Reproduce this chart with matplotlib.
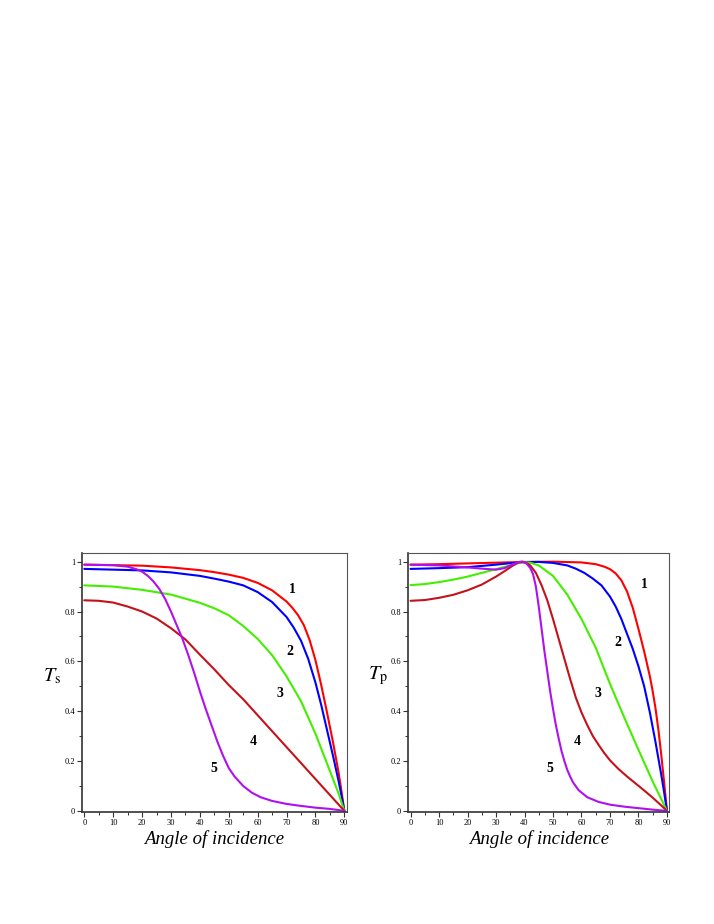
import matplotlib
matplotlib.use("Agg")
import matplotlib.pyplot as plt
from matplotlib.ticker import MultipleLocator, FixedLocator, FixedFormatter

plt.rcParams["font.family"] = ["Liberation Serif", "DejaVu Serif"]
plt.rcParams["mathtext.fontset"] = "stix"

# ---- data ----
# left panel: T_s
ts1_ang = [0, 10, 20, 30, 40, 45, 50, 55, 60, 65, 70, 72, 74, 76, 78, 80, 82, 84, 86, 88, 89, 90]
ts1_val = [0.988, 0.986, 0.984, 0.977, 0.966, 0.958, 0.948, 0.935, 0.915, 0.885, 0.84, 0.815,
           0.785, 0.745, 0.685, 0.605, 0.505, 0.395, 0.28, 0.155, 0.08, 0.0]

ts2_ang = [0, 10, 20, 30, 40, 45, 50, 55, 60, 65, 70, 72.5, 75, 77.5, 80, 82, 84, 86, 88, 89, 90]
ts2_val = [0.971, 0.968, 0.965, 0.957, 0.943, 0.932, 0.92, 0.905, 0.878, 0.838, 0.778, 0.735,
           0.683, 0.61, 0.515, 0.425, 0.325, 0.225, 0.12, 0.062, 0.0]

ts3_ang = [0, 10, 20, 30, 40, 45, 50, 55, 60, 65, 70, 75, 80, 85, 88, 90]
ts3_val = [0.905, 0.90, 0.887, 0.868, 0.835, 0.813, 0.785, 0.742, 0.69, 0.625, 0.54, 0.44,
           0.31, 0.16, 0.07, 0.0]

ts4_ang = [0, 5, 10, 15, 20, 25, 30, 35, 40, 45, 50, 55, 60, 65, 70, 75, 80, 85, 90]
ts4_val = [0.845, 0.843, 0.836, 0.82, 0.80, 0.772, 0.733, 0.688, 0.627, 0.568, 0.505, 0.448,
           0.384, 0.32, 0.256, 0.192, 0.128, 0.064, 0.0]

ts5_ang = [0, 10, 15, 18, 20, 22, 24, 26, 28, 30, 32, 34, 36, 38, 40, 42, 44, 46, 48, 50,
           52, 55, 58, 61, 65, 70, 75, 80, 85, 90]
ts5_val = [0.988, 0.986, 0.98, 0.97, 0.96, 0.943, 0.92, 0.89, 0.85, 0.80, 0.745, 0.69, 0.625,
           0.555, 0.48, 0.41, 0.345, 0.28, 0.222, 0.172, 0.138, 0.10, 0.073, 0.055, 0.04,
           0.028, 0.02, 0.013, 0.008, 0.0]

# right panel: T_p
tp1_ang = [0, 10, 20, 30, 40, 50, 60, 65, 68, 70, 72, 74, 76, 78, 80, 82, 84, 85, 86, 87, 88, 89, 90]
tp1_val = [0.988, 0.99, 0.993, 0.996, 0.999, 1.0, 0.997, 0.99, 0.98, 0.97, 0.953, 0.925, 0.88,
           0.815, 0.73, 0.64, 0.54, 0.48, 0.41, 0.325, 0.225, 0.115, 0.0]

tp2_ang = [0, 10, 20, 30, 35, 40, 45, 50, 55, 58, 61, 64, 67, 70, 72, 74, 76, 78, 80, 82,
           84, 86, 88, 89, 90]
tp2_val = [0.971, 0.974, 0.978, 0.988, 0.994, 0.998, 0.999, 0.995, 0.985, 0.972, 0.955, 0.932,
           0.905, 0.86, 0.82, 0.77, 0.71, 0.65, 0.58, 0.50, 0.395, 0.275, 0.145, 0.075, 0.0]

tp3_ang = [0, 5, 10, 15, 20, 25, 30, 35, 38, 40, 42, 45, 50, 55, 60, 65, 70, 75, 80, 85, 90]
tp3_val = [0.906, 0.91, 0.918, 0.928, 0.94, 0.955, 0.97, 0.985, 0.995, 0.998, 0.996, 0.985,
           0.943, 0.868, 0.77, 0.655, 0.51, 0.375, 0.245, 0.118, 0.0]

tp4_ang = [0, 5, 10, 15, 20, 25, 30, 33, 36, 38, 39.4, 41, 42, 44, 46, 48, 50, 52, 54, 56, 58,
           60, 62, 64, 66, 68, 70, 73, 76, 79, 82, 85, 88, 90]
tp4_val = [0.843, 0.846, 0.855, 0.867, 0.885, 0.908, 0.94, 0.962, 0.985, 0.997, 1.0, 0.993,
           0.985, 0.955, 0.905, 0.845, 0.77, 0.69, 0.61, 0.53, 0.455, 0.395, 0.345, 0.30,
           0.265, 0.232, 0.203, 0.168, 0.138, 0.11, 0.082, 0.053, 0.022, 0.0]

tp5_ang = [0, 10, 20, 25, 30, 33, 36, 38, 39, 40.5, 42, 43, 44, 45, 46, 47, 48, 49, 50, 51,
           52, 53, 54, 55, 56, 57, 59, 62, 66, 70, 75, 80, 85, 90]
tp5_val = [0.988, 0.985, 0.977, 0.972, 0.968, 0.974, 0.99, 0.999, 1.0, 0.995, 0.975, 0.95,
           0.90, 0.82, 0.73, 0.64, 0.56, 0.48, 0.41, 0.345, 0.29, 0.24, 0.20, 0.165, 0.138,
           0.115, 0.083, 0.055, 0.036, 0.025, 0.017, 0.011, 0.005, 0.0]

colors = ["#ff0000", "#0000ff", "#44ee00", "#c4121a", "#b010f0"]
curve_names = ["1", "2", "3", "4", "5"]

ts_label_pos = [(71.9, 0.89), (71.3, 0.64), (67.6, 0.473), (58.6, 0.278), (45.0, 0.171)]
tp_label_pos = [(82.0, 0.91), (72.7, 0.675), (65.9, 0.473), (58.5, 0.278), (48.9, 0.171)]

ts_curves = [(ts1_ang, ts1_val), (ts2_ang, ts2_val), (ts3_ang, ts3_val),
             (ts4_ang, ts4_val), (ts5_ang, ts5_val)]
tp_curves = [(tp1_ang, tp1_val), (tp2_ang, tp2_val), (tp3_ang, tp3_val),
             (tp4_ang, tp4_val), (tp5_ang, tp5_val)]

x_ticks = [0, 10, 20, 30, 40, 50, 60, 70, 80, 90]
y_ticks = [0, 0.2, 0.4, 0.6, 0.8, 1.0]
y_tick_labels = ["0", "0.2", "0.4", "0.6", "0.8", "1"]


def style_axes(ax):
    ax.set_xlim(-0.8, 90.8)
    ax.set_ylim(-0.003, 1.034)
    ax.xaxis.set_major_locator(FixedLocator(x_ticks))
    ax.xaxis.set_minor_locator(MultipleLocator(5))
    ax.yaxis.set_major_locator(FixedLocator(y_ticks))
    ax.yaxis.set_major_formatter(FixedFormatter(y_tick_labels))
    ax.yaxis.set_minor_locator(MultipleLocator(0.1))
    ax.tick_params(which="both", direction="out", top=False, right=False,
                   color="#333333", labelsize=6, pad=1.5)
    ax.tick_params(which="major", length=3.5, width=0.8)
    ax.tick_params(which="minor", length=2, width=0.7)
    for side in ["left", "bottom"]:
        ax.spines[side].set_linewidth(1.2)
        ax.spines[side].set_color("#333333")
    for side in ["top", "right"]:
        ax.spines[side].set_linewidth(0.8)
        ax.spines[side].set_color("#555555")


def draw_panel(ax, curves, label_pos, ylab):
    for (ang, val), c in zip(curves, colors):
        ax.plot(ang, val, color=c, lw=1.5, solid_capstyle="round", solid_joinstyle="round")
    for name, (lx, ly) in zip(curve_names, label_pos):
        ax.text(lx, ly, name, fontsize=10, fontweight="bold", ha="center", va="center")
    style_axes(ax)
    ax.text(0.5, -0.125, "Angle of incidence", transform=ax.transAxes,
            ha="center", va="baseline", fontsize=13.5, style="italic")
    ax.text(-0.078, 0.525, ylab, transform=ax.transAxes,
            ha="right", va="center", fontsize=14.5)


fig = plt.figure(figsize=(7.14, 9.24), dpi=100)
ax1 = fig.add_axes([0.1148, 0.1216, 0.3707, 0.2797])
ax2 = fig.add_axes([0.5718, 0.1216, 0.3655, 0.2797])

draw_panel(ax1, ts_curves, ts_label_pos, r"$T_{\mathrm{s}}$")
draw_panel(ax2, tp_curves, tp_label_pos, r"$T_{\mathrm{p}}$")

fig.savefig("out.png", dpi=100)
